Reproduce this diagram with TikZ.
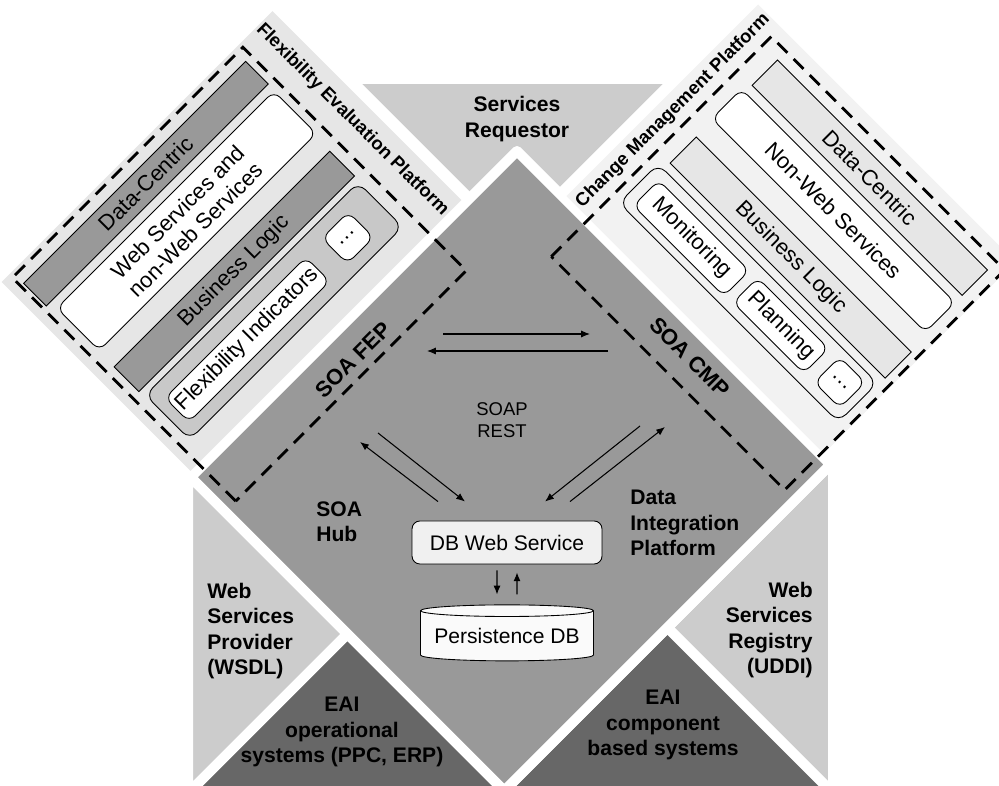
\documentclass[tikz,border=0pt]{standalone}
\usepackage{fontspec}
\setmainfont{Liberation Sans}
\usetikzlibrary{arrows,arrows.meta}
\usetikzlibrary{shapes.geometric}
\definecolor{hubgray}{RGB}{153,153,153}
\definecolor{rolegray}{RGB}{204,204,204}
\definecolor{eaigray}{RGB}{103,103,103}
\definecolor{fepback}{RGB}{230,230,230}
\definecolor{fepinner}{RGB}{200,200,200}
\definecolor{cmpback}{RGB}{242,242,242}
\definecolor{cmpbar}{RGB}{230,230,230}
\definecolor{dbfill}{RGB}{240,240,240}

\begin{document}
\begin{tikzpicture}[x=0.02cm, y=0.02cm, >={Latex[length=5pt,width=4pt]},
	gap/.style={draw=white, line width=5.7pt, line join=round},
	rolelabel/.style={inner sep=0pt, font=\fontsize{12}{14.4}\selectfont\bfseries},
	platlabel/.style={inner sep=0pt, font=\fontsize{10.5}{12.6}\selectfont\bfseries},
	soalabel/.style={inner sep=0pt, font=\fontsize{12.5}{15}\selectfont\bfseries},
	layer/.style={draw, line width=0.5pt, inner sep=0pt, align=center, font=\fontsize{12.5}{14.5}\selectfont},
	item/.style={layer, fill=white, rounded corners=5pt},
	platframe/.style={dash pattern=on 8pt off 5pt, line width=1.6pt},
	link/.style={->, line width=0.6pt}]

	\useasboundingbox (0,0) rectangle (999,786);
	\clip (0,0) rectangle (999,786);

	\filldraw[fill=rolegray, gap] (350,707) -- (675,707) -- (512.5,544.5) -- cycle;
	\filldraw[fill=rolegray, gap] (188,311.5) -- (347.5,152) -- (188,-7.5) -- cycle;
	\filldraw[fill=rolegray, gap] (833,324) -- (667.4,158.4) -- (833,-7.2) -- cycle;
	\filldraw[fill=eaigray, gap] (347.5,152) -- (181.5,-14) -- (513.5,-14) -- cycle;
	\filldraw[fill=eaigray, gap] (667.4,158.4) -- (495,-14) -- (839.8,-14) -- cycle;
	\filldraw[fill=hubgray, gap] (517,635) -- (190.75,308.75) -- (504.25,-4.75) -- (830.5,321.5) -- cycle;

	\begin{scope}[shift={(231.5,545)}, rotate=45, transform shape]
		\fill[fepback] (-191.5,-133.5) rectangle (191.5,133.5);
		\node[layer, fill=hubgray, minimum width=6.28cm, minimum height=0.64cm] (fepData) at (-20,101) {Data-Centric};
		\node[item, minimum width=6.14cm, minimum height=1.2cm] (fepServices) at (-17.5,46) {Web Services and\\non-Web Services};
		\node[layer, fill=hubgray, minimum width=6.1cm, minimum height=0.7cm] (fepLogic) at (-19.5,-23.5) {Business Logic};
		\node[layer, fill=fepinner, rounded corners=6pt, minimum width=6.02cm, minimum height=1.26cm] (fepTools) at (-19.5,-79.5) {};
		\node[item, minimum width=3.98cm, minimum height=0.68cm] (fepIndicators) at (-58.5,-81) {Flexibility Indicators};
		\node[item, minimum width=0.74cm, minimum height=0.72cm] (fepMore) at (84.5,-80) {\dots};
		\draw[platframe] (-181,-187) rectangle (145,129);
		\node[platlabel, rotate=-90] (fepName) at (171,0) {Flexibility Evaluation Platform};
		\node[soalabel] (fepSoa) at (2,-170) {SOA FEP};
	\end{scope}

	\begin{scope}[shift={(791,557)}, rotate=-45, transform shape]
		\fill[cmpback] (-182,-135.5) rectangle (182,135.5);
		\node[layer, fill=cmpbar, minimum width=5.94cm, minimum height=0.72cm] (cmpData) at (19.5,92) {Data-Centric};
		\node[item, minimum width=6.04cm, minimum height=0.84cm] (cmpServices) at (17,43) {Non-Web Services};
		\node[layer, fill=cmpbar, minimum width=6.08cm, minimum height=0.74cm] (cmpLogic) at (20,-20.5) {Business Logic};
		\node[layer, fill=cmpback, rounded corners=6pt, minimum width=6.2cm, minimum height=1.1cm] (cmpTools) at (15,-75.5) {};
		\node[item, minimum width=2.56cm, minimum height=0.72cm] (cmpMonitoring) at (-64,-77) {Monitoring};
		\node[item, minimum width=2cm, minimum height=0.7cm] (cmpPlanning) at (61,-75.5) {Planning};
		\node[item, minimum width=0.72cm, minimum height=0.72cm] (cmpMore) at (143,-74) {\dots};
		\draw[platframe] (-150,-189) rectangle (180,122);
		\node[platlabel, rotate=90] (cmpName) at (-167,0) {Change Management Platform};
		\node[soalabel] (cmpSoa) at (19,-162) {SOA CMP};
	\end{scope}

	\node[rolelabel, align=center] (requestor) at (517,667) {Services\\Requestor};
	\node[rolelabel, align=left, anchor=west] (provider) at (207,155) {Web\\Services\\Provider\\(WSDL)};
	\node[rolelabel, align=right, anchor=east] (registry) at (813,156) {Web\\Services\\Registry\\(UDDI)};
	\node[rolelabel, align=center] (eaiOperational) at (342,54) {EAI\\operational\\systems (PPC, ERP)};
	\node[rolelabel, align=center] (eaiComponent) at (663,61) {EAI\\component\\based systems};
	\node[rolelabel, align=left, anchor=west] (soaHub) at (316,264) {SOA\\Hub};
	\node[rolelabel, align=left, anchor=west] (integration) at (630,263) {Data\\Integration\\Platform};
	\node[inner sep=0pt, align=center, font=\fontsize{10.5}{12.6}\selectfont] (protocols) at (502,366) {SOAP\\REST};

	\node[draw, line width=0.5pt, fill=dbfill, rounded corners=4.5pt, minimum width=3.8cm, minimum height=0.86cm, font=\fontsize{12}{14.4}\selectfont] (dbws) at (507,243.5) {DB Web Service};
	\node[cylinder, shape border rotate=90, aspect=0.08, draw, line width=0.5pt, fill=white!98!black, minimum width=3.46cm, minimum height=1.12cm, inner sep=0pt, font=\fontsize{12}{14.4}\selectfont] (pdb) at (507,150) {Persistence DB};

	\coordinate (fepOut) at (443,452);
	\coordinate (cmpIn) at (590,452);
	\coordinate (cmpOut) at (608,435);
	\coordinate (fepIn) at (427,435);
	\coordinate (fepDown) at (378,353);
	\coordinate (fepUp) at (360,344);
	\coordinate (cmpDown) at (640,360);
	\coordinate (cmpUp) at (665,359);

	\draw[link] (fepOut) -- (cmpIn);
	\draw[link] (cmpOut) -- (fepIn);
	\draw[link] (fepDown) -- ([shift={(-42,19)}]dbws.north);
	\draw[link] ([shift={(-69,19)}]dbws.north) -- (fepUp);
	\draw[link] ([shift={(63,19)}]dbws.north) -- (cmpUp);
	\draw[link] (cmpDown) -- ([shift={(38,19)}]dbws.north);
	\draw[link] ([shift={(-10,-6)}]dbws.south) -- ([shift={(-10,10)}]pdb.north);
	\draw[link] ([shift={(10,10)}]pdb.north) -- ([shift={(10,-8)}]dbws.south);

\end{tikzpicture}
\end{document}
